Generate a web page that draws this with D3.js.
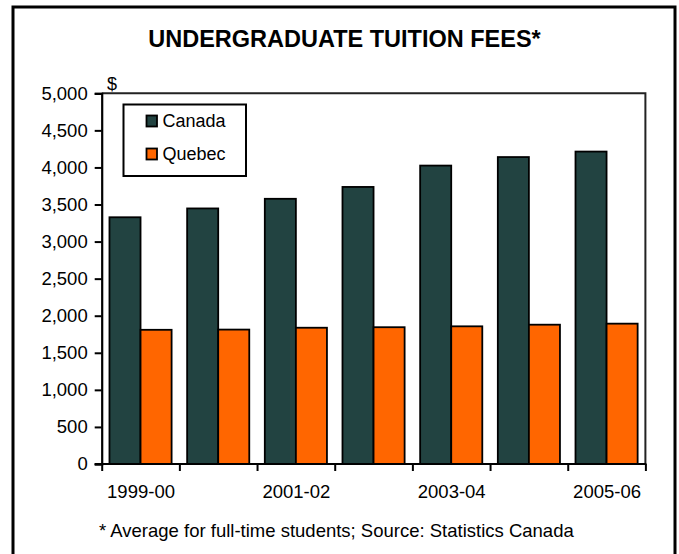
<!DOCTYPE html>
<html>
<head>
<meta charset="utf-8">
<script src="https://cdn.jsdelivr.net/npm/d3@7/dist/d3.min.js"></script>
<style>
  html, body { margin: 0; padding: 0; background: #fff; }
  svg { display: block; font-family: "Liberation Sans", Arial, sans-serif; }
</style>
</head>
<body>
<svg id="chart" width="679" height="554"></svg>
<script>
const categories = ["1999-00", "2000-01", "2001-02", "2002-03", "2003-04", "2004-05", "2005-06"];
const canada = [3328, 3447, 3577, 3737, 4025, 4140, 4214];
const quebec = [1810, 1813, 1838, 1845, 1857, 1879, 1893];
const seriesNames = ["Canada", "Quebec"];
const seriesColors = ["#224341", "#ff6600"];
const yTicks = [0, 500, 1000, 1500, 2000, 2500, 3000, 3500, 4000, 4500, 5000];
const xLabels = ["1999-00", "2001-02", "2003-04", "2005-06"];
const titleText = "UNDERGRADUATE TUITION FEES*";
const footnoteText = "* Average for full-time students; Source: Statistics Canada";

(function () {
const svg = d3.select("#chart");
const pLeft = 101.7, pRight = 645.4, pTop = 93.3, pBottom = 464;

// outer frame
svg.append("rect")
  .attr("x", 13).attr("y", 7).attr("width", 662).attr("height", 560)
  .attr("fill", "none").attr("stroke", "#000").attr("stroke-width", 3);

// title
svg.append("text")
  .attr("x", 344.5).attr("y", 46.7)
  .attr("text-anchor", "middle")
  .attr("font-weight", "bold").attr("font-size", 23.5)
  .text(titleText);

const y = d3.scaleLinear().domain([0, 5000]).range([pBottom, pTop]);
const x0 = d3.scaleBand().domain(categories).range([pLeft, pRight])
  .paddingInner(0.2).paddingOuter(0.1);
const x1 = d3.scaleBand().domain(seriesNames).range([0, x0.bandwidth()]);
const xIdx = d3.scaleLinear().domain([0, categories.length]).range([pLeft, pRight]);

// plot box top/right
svg.append("path")
  .attr("d", `M${pLeft},${pTop}H${pRight}V${pBottom}`)
  .attr("fill", "none").attr("stroke", "#222").attr("stroke-width", 2);

// bars
const data = categories.map((c, i) => ({ cat: c, values: [canada[i], quebec[i]] }));
const groups = svg.append("g").selectAll("g").data(data).join("g")
  .attr("transform", d => `translate(${x0(d.cat)},0)`);
groups.selectAll("rect")
  .data(d => d.values.map((v, k) => ({ name: seriesNames[k], v, k })))
  .join("rect")
  .attr("x", d => x1(d.name))
  .attr("y", d => y(d.v))
  .attr("width", x1.bandwidth())
  .attr("height", d => y(0) - y(d.v))
  .attr("fill", d => seriesColors[d.k])
  .attr("stroke", "#000").attr("stroke-width", 1.8);

// y axis
const yAxis = svg.append("g")
  .attr("transform", `translate(${pLeft},0)`)
  .call(d3.axisLeft(y).tickValues(yTicks).tickSize(7).tickPadding(7)
    .tickFormat(d3.format(",")));
yAxis.select(".domain").attr("stroke", "#000").attr("stroke-width", 2.2);
yAxis.selectAll(".tick line").attr("stroke", "#000").attr("stroke-width", 2);
yAxis.selectAll(".tick text").attr("font-size", 18.5).attr("fill", "#000")
  .attr("font-family", "Liberation Sans, Arial, sans-serif");

// x axis ticks at band boundaries
const xAxis = svg.append("g")
  .attr("transform", `translate(0,${pBottom})`)
  .call(d3.axisBottom(xIdx).ticks(categories.length).tickSize(7).tickFormat(""));
xAxis.select(".domain").remove();
xAxis.append("line").attr("x1", pLeft - 7).attr("x2", pRight + 1).attr("y1", 0).attr("y2", 0)
  .attr("stroke", "#000").attr("stroke-width", 2.2);
xAxis.selectAll(".tick line").attr("stroke", "#000").attr("stroke-width", 2);

// x labels
svg.append("g").selectAll("text").data(xLabels).join("text")
  .attr("x", d => x0(d) + x0.bandwidth() / 2 + 0.5)
  .attr("y", 498)
  .attr("text-anchor", "middle")
  .attr("font-size", 18.5)
  .text(d => d);

// $ label
svg.append("text").attr("x", 107).attr("y", 89.5).attr("font-size", 18).text("$");

// legend
const lg = svg.append("g");
lg.append("rect").attr("x", 123.5).attr("y", 104.5).attr("width", 122.5).attr("height", 71.5)
  .attr("fill", "#fff").attr("stroke", "#000").attr("stroke-width", 2);
seriesNames.forEach((n, k) => {
  const yy = 115.5 + k * 33;
  lg.append("rect").attr("x", 146.5).attr("y", yy).attr("width", 10.5).attr("height", 11)
    .attr("fill", seriesColors[k]).attr("stroke", "#000").attr("stroke-width", 1.8);
  lg.append("text").attr("x", 162.5).attr("y", yy + 11.5).attr("font-size", 18).text(n);
});

// footnote
svg.append("text").attr("x", 99).attr("y", 537).attr("font-size", 18.5).text(footnoteText);
})();
</script>
</body>
</html>
